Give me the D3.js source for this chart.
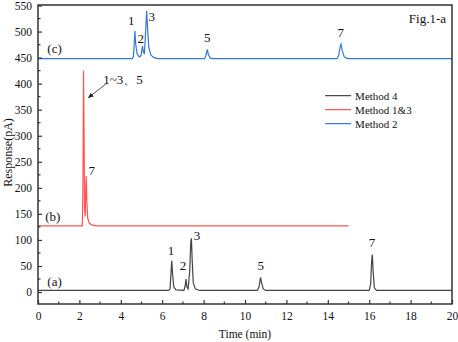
<!DOCTYPE html>
<html>
<head>
<meta charset="utf-8">
<script src="https://cdn.jsdelivr.net/npm/d3@7"></script>
<style>
  body { margin: 0; background: #fff; }
  text { font-family: "Liberation Serif", "Times New Roman", serif; fill: #111; }
</style>
</head>
<body>
<div id="chart"></div>
<script>
// chromatogram traces, [time (min), response (pA)]
var method4 = [
    [0, 3], [6.3, 3], [6.38, 6], [6.43, 40], [6.46, 60], [6.5, 35], [6.56, 10], [6.66, 4],
    [7.05, 3], [7.11, 12], [7.15, 25], [7.19, 10], [7.25, 6], [7.33, 40], [7.38, 95], [7.41, 103],
    [7.45, 60], [7.5, 18], [7.6, 6], [7.8, 3],
    [10.6, 3], [10.68, 10], [10.75, 28], [10.8, 18], [10.88, 6], [11.0, 3],
    [16.0, 3], [16.07, 15], [16.12, 60], [16.15, 72], [16.19, 40], [16.25, 8], [16.35, 3], [20, 3]
];
var method13 = [
    [0, 127], [2.14, 127], [2.17, 200], [2.2, 425], [2.22, 330], [2.25, 160], [2.28, 145],
    [2.31, 200], [2.33, 222], [2.36, 175], [2.4, 142], [2.48, 132], [2.6, 129], [2.8, 127], [15, 127]
];
var method2 = [
    [0, 448], [4.55, 448], [4.61, 452], [4.65, 478], [4.68, 501], [4.72, 476], [4.79, 457],
    [4.9, 451], [4.98, 454], [5.02, 466], [5.05, 472], [5.09, 460], [5.14, 458], [5.2, 500],
    [5.25, 540], [5.29, 508], [5.35, 470], [5.45, 455], [5.6, 450], [5.8, 448],
    [8.05, 448], [8.12, 455], [8.18, 466], [8.23, 456], [8.32, 449], [8.45, 448],
    [14.45, 448], [14.53, 455], [14.6, 472], [14.64, 476], [14.7, 463], [14.8, 451], [14.95, 448], [20, 448]
];

var seriesNames = ['Method 4', 'Method 1&3', 'Method 2'];
var seriesColors = ['#444444', '#ff5252', '#3577e0'];

// peak numbers: [label, time, response at label]
var labelsA = [['1', 6.42, 72], ['2', 7.0, 42], ['3', 7.68, 100], ['5', 10.76, 42], ['7', 16.14, 86]];
var labelsB = [['7', 2.6, 224]];
var labelsC = [['1', 4.5, 512], ['2', 4.96, 478], ['3', 5.5, 521], ['5', 8.18, 480], ['7', 14.62, 490]];

var xTicks = d3.range(0, 21, 2);
var yTicks = d3.range(0, 551, 50);

var margin = { top: 5, left: 38, bottom: 38, right: 6 },
    width = 458 - margin.left - margin.right,
    height = 342 - margin.top - margin.bottom;

var svg = d3.select('#chart').append('svg')
    .attr('width', 458)
    .attr('height', 342)
    .append('g')
    .attr('transform', 'translate(' + margin.left + ', ' + margin.top + ')');

var x = d3.scaleLinear().domain([0, 20]).range([0, width]);
var y = d3.scaleLinear().domain([-23, 551]).range([height, 0]);

var line = d3.line()
    .x(d => x(d[0]))
    .y(d => y(d[1]));

[method4, method13, method2].forEach(function (s, i) {
    svg.append('path')
        .datum(s)
        .attr('fill', 'none')
        .attr('stroke', seriesColors[i])
        .attr('stroke-width', 1.2)
        .attr('d', line);
});

// axes, ticks pointing inward
var xAxis = d3.axisBottom(x).tickValues(xTicks).tickSize(-4).tickPadding(8);
var yAxis = d3.axisLeft(y).tickValues(yTicks).tickSize(-4).tickPadding(6);

var gx = svg.append('g')
    .attr('transform', 'translate(0,' + height + ')')
    .call(xAxis);
var gy = svg.append('g').call(yAxis);

[gx, gy].forEach(function (g) {
    g.select('.domain').remove();
    g.selectAll('line').attr('stroke', '#333').attr('stroke-width', 1.2);
    g.selectAll('text').style('font-family', '"Liberation Serif", serif').style('font-size', '11.5px').attr('fill', '#111');
});

// minor ticks
svg.append('g').selectAll('line')
    .data(d3.range(1, 20, 2))
    .enter().append('line')
    .attr('x1', d => x(d)).attr('x2', d => x(d))
    .attr('y1', height).attr('y2', height - 2.5)
    .attr('stroke', '#333').attr('stroke-width', 1.2);

svg.append('g').selectAll('line')
    .data(d3.range(25, 551, 50))
    .enter().append('line')
    .attr('x1', 0).attr('x2', 2.5)
    .attr('y1', d => y(d)).attr('y2', d => y(d))
    .attr('stroke', '#333').attr('stroke-width', 1.2);

// frame
svg.append('rect')
    .attr('width', width)
    .attr('height', height)
    .attr('fill', 'none')
    .attr('stroke', '#333')
    .attr('stroke-width', 1.5);

// axis titles
svg.append('text')
    .attr('x', width / 2)
    .attr('y', height + 34)
    .attr('text-anchor', 'middle')
    .style('font-size', '11.5px')
    .text('Time (min)');

svg.append('text')
    .attr('transform', 'translate(' + (-26) + ',' + (height / 2 - 2) + ') rotate(-90)')
    .attr('text-anchor', 'middle')
    .style('font-size', '12px')
    .text('Response(pA)');

// peak numbers
function peakLabels(list) {
    svg.append('g').selectAll('text')
        .data(list)
        .enter().append('text')
        .attr('x', d => x(d[1]))
        .attr('y', d => y(d[2]))
        .attr('text-anchor', 'middle')
        .style('font-size', '13px')
        .text(d => d[0]);
}
peakLabels(labelsA);
peakLabels(labelsB);
peakLabels(labelsC);

// trace tags
svg.append('text').attr('x', x(0.45)).attr('y', y(12)).style('font-size', '13px').text('(a)');
svg.append('text').attr('x', x(0.35)).attr('y', y(137)).style('font-size', '13px').text('(b)');
svg.append('text').attr('x', x(0.45)).attr('y', y(458)).style('font-size', '13px').text('(c)');

svg.append('text')
    .attr('x', width - 6)
    .attr('y', 18)
    .attr('text-anchor', 'end')
    .style('font-size', '13px')
    .text('Fig.1-a');

// arrow for co-eluting peaks
svg.append('defs').append('marker')
    .attr('id', 'arrow')
    .attr('viewBox', '0 0 10 10')
    .attr('refX', 9).attr('refY', 5)
    .attr('markerWidth', 7).attr('markerHeight', 7)
    .attr('orient', 'auto')
    .append('path')
    .attr('d', 'M0,1 L10,5 L0,9 z')
    .attr('fill', '#222');

svg.append('line')
    .attr('x1', x(3.3)).attr('y1', y(400))
    .attr('x2', x(2.43)).attr('y2', y(373))
    .attr('stroke', '#222')
    .attr('stroke-width', 0.8)
    .attr('marker-end', 'url(#arrow)');

svg.append('text')
    .attr('x', x(3.15))
    .attr('y', y(400))
    .style('font-size', '13px')
    .text('1~3、5');

// legend
var legend = svg.append('g')
    .attr('transform', 'translate(' + (x(13.87)) + ',' + y(377) + ')');

seriesNames.forEach(function (n, i) {
    var row = legend.append('g').attr('transform', 'translate(0,' + (i * 14) + ')');
    row.append('line')
        .attr('x1', 0).attr('x2', 26)
        .attr('y1', 0).attr('y2', 0)
        .attr('stroke', seriesColors[i])
        .attr('stroke-width', 1.2);
    row.append('text')
        .attr('x', 30)
        .attr('y', 4)
        .style('font-size', '11px')
        .text(n);
});
</script>
</body>
</html>
